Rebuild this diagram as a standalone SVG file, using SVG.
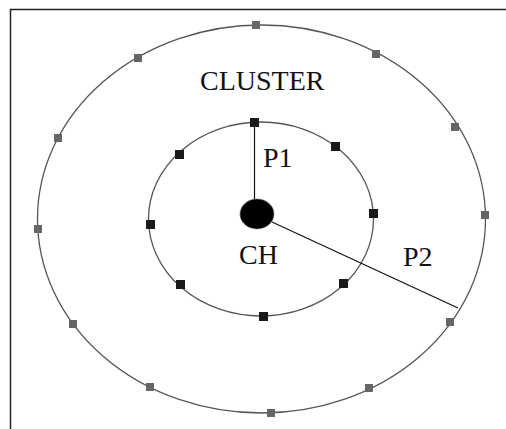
<svg xmlns="http://www.w3.org/2000/svg" width="506" height="429" viewBox="0 0 506 429">
<style>
.frame{stroke:#222;stroke-width:1.5;fill:none}
.ring{fill:none;stroke:#555;stroke-width:1.3}
.on{fill:#666}
.in{fill:#1a1a1a}
.link{stroke:#111;stroke-width:1.2;fill:none}
text{font-family:"Liberation Serif","Times New Roman",serif;font-size:28px;fill:#111}
</style>
<rect width="506" height="429" fill="#fff"/>
<path class="frame" d="M10.5 429 V9.5 H506"/>
<g id="outer-cluster">
<ellipse class="ring" cx="261.5" cy="219" rx="224" ry="194"/>
<rect class="on" x="252" y="21" width="8" height="8"/>
<rect class="on" x="134" y="54" width="8" height="8"/>
<rect class="on" x="372" y="50" width="8" height="8"/>
<rect class="on" x="451" y="123" width="8" height="8"/>
<rect class="on" x="54" y="134" width="8" height="8"/>
<rect class="on" x="34" y="225" width="8" height="8"/>
<rect class="on" x="481" y="211" width="8" height="8"/>
<rect class="on" x="69" y="320" width="8" height="8"/>
<rect class="on" x="146" y="383" width="8" height="8"/>
<rect class="on" x="267" y="409" width="8" height="8"/>
<rect class="on" x="365" y="384" width="8" height="8"/>
<rect class="on" x="446" y="318" width="8" height="8"/>
<text x="200" y="90">CLUSTER</text>
</g>
<g id="inner-ring">
<ellipse class="ring" cx="261" cy="219" rx="112.5" ry="97"/>
<rect class="in" x="250" y="118" width="9" height="9"/>
<rect class="in" x="175" y="150" width="9" height="9"/>
<rect class="in" x="331" y="142" width="9" height="9"/>
<rect class="in" x="146" y="220" width="9" height="9"/>
<rect class="in" x="369" y="209" width="9" height="9"/>
<rect class="in" x="176" y="280" width="9" height="9"/>
<rect class="in" x="339" y="279" width="9" height="9"/>
<rect class="in" x="259" y="312" width="9" height="9"/>
</g>
<g id="connectors">
<line class="link" x1="254.5" y1="122" x2="254.5" y2="200"/>
<line class="link" x1="272" y1="222" x2="458" y2="308"/>
</g>
<g id="cluster-head">
<ellipse cx="257" cy="214" rx="17" ry="15" fill="#000" stroke="#777" stroke-width="1" stroke-dasharray="1.5 1"/>
<text x="239" y="264">CH</text>
</g>
<g id="labels">
<text x="263" y="167">P1</text>
<text x="403" y="266">P2</text>
</g>
</svg>
